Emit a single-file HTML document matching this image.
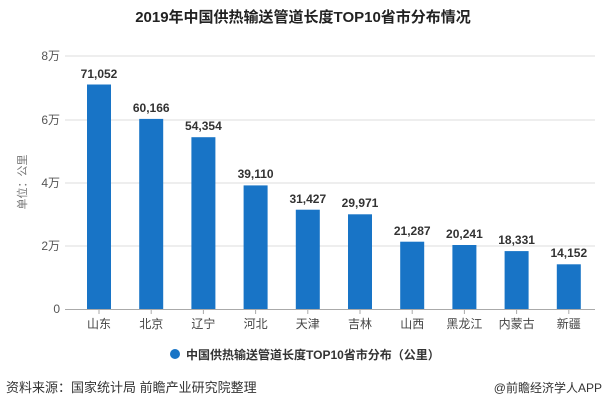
<!DOCTYPE html><html><head><meta charset="utf-8"><style>body{margin:0;background:#fff}svg text{font-family:"Liberation Sans","Noto Sans CJK SC",sans-serif}</style></head><body>
<svg width="607" height="410" viewBox="0 0 607 410" xmlns="http://www.w3.org/2000/svg">
<text x="303" y="22" text-anchor="middle" font-family="Liberation Serif,Noto Serif CJK SC,serif" font-size="15" font-weight="bold" fill="#222">2019年中国供热输送管道长度TOP10省市分布情况</text>
<g stroke="#ddd" stroke-width="1">
<line x1="65" y1="56" x2="595" y2="56"/><line x1="65" y1="120" x2="595" y2="120"/><line x1="65" y1="183" x2="595" y2="183"/><line x1="65" y1="246" x2="595" y2="246"/>
</g>
<line x1="65" y1="309.5" x2="595" y2="309.5" stroke="#aaa"/>
<g font-size="12" fill="#555" text-anchor="end">
<text x="60" y="60">8万</text><text x="60" y="124">6万</text><text x="60" y="187">4万</text><text x="60" y="250">2万</text><text x="60" y="313">0</text></g>
<text transform="translate(26,182) rotate(-90)" font-size="11" fill="#777" text-anchor="middle">单位：公里</text>
<g fill="#1874c6">
<rect x="87" y="84.5" width="24" height="224.5"/>
<rect x="139.2" y="118.9" width="24" height="190.1"/>
<rect x="191.4" y="137.2" width="24" height="171.8"/>
<rect x="243.6" y="185.4" width="24" height="123.6"/>
<rect x="295.8" y="209.7" width="24" height="99.3"/>
<rect x="348" y="214.3" width="24" height="94.7"/>
<rect x="400.2" y="241.7" width="24" height="67.3"/>
<rect x="452.4" y="245" width="24" height="64"/>
<rect x="504.6" y="251.1" width="24" height="57.9"/>
<rect x="556.8" y="264.3" width="24" height="44.7"/>
</g>
<g stroke="#aaa">
<line x1="99" y1="310" x2="99" y2="314"/><line x1="151.2" y1="310" x2="151.2" y2="314"/><line x1="203.4" y1="310" x2="203.4" y2="314"/><line x1="255.6" y1="310" x2="255.6" y2="314"/><line x1="307.8" y1="310" x2="307.8" y2="314"/><line x1="360" y1="310" x2="360" y2="314"/><line x1="412.2" y1="310" x2="412.2" y2="314"/><line x1="464.4" y1="310" x2="464.4" y2="314"/><line x1="516.6" y1="310" x2="516.6" y2="314"/><line x1="568.8" y1="310" x2="568.8" y2="314"/>
</g>
<g font-size="12" font-weight="bold" fill="#333" text-anchor="middle">
<text x="99" y="78">71,052</text><text x="151.2" y="112">60,166</text><text x="203.4" y="130">54,354</text><text x="255.6" y="178">39,110</text><text x="307.8" y="203">31,427</text><text x="360" y="207">29,971</text><text x="412.2" y="235">21,287</text><text x="464.4" y="238">20,241</text><text x="516.6" y="244">18,331</text><text x="568.8" y="257">14,152</text>
</g>
<g font-size="12" fill="#444" text-anchor="middle">
<text x="99" y="328">山东</text><text x="151.2" y="328">北京</text><text x="203.4" y="328">辽宁</text><text x="255.6" y="328">河北</text><text x="307.8" y="328">天津</text><text x="360" y="328">吉林</text><text x="412.2" y="328">山西</text><text x="464.4" y="328">黑龙江</text><text x="516.6" y="328">内蒙古</text><text x="568.8" y="328">新疆</text>
</g>
<circle cx="175" cy="354" r="5" fill="#1874c6"/>
<text x="186" y="359" font-size="12" font-weight="bold" fill="#333">中国供热输送管道长度TOP10省市分布（公里）</text>
<text x="6" y="392" font-size="13" fill="#333">资料来源：国家统计局 前瞻产业研究院整理</text>
<text x="602" y="392" font-size="12" fill="#333" text-anchor="end">@前瞻经济学人APP</text>
</svg></body></html>
